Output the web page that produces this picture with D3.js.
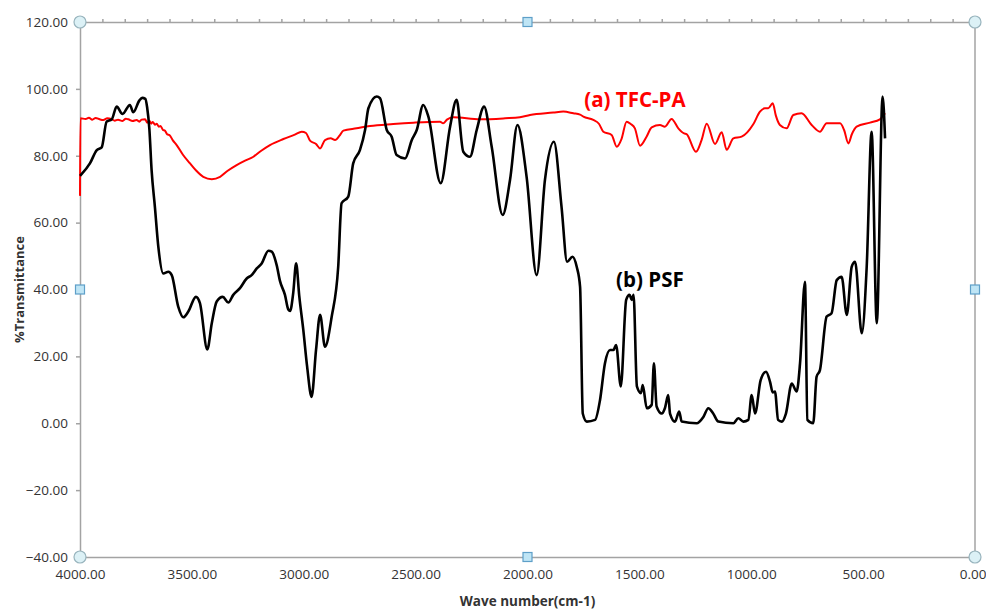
<!DOCTYPE html>
<html>
<head>
<meta charset="utf-8">
<script src="https://cdn.jsdelivr.net/npm/d3@7"></script>
<style>
  body { margin: 0; background: #fff; }
  svg { display: block; }
</style>
</head>
<body>
<svg></svg>
<script>
// PSF spectrum (black)
const psfWave = [4000,3993,3955,3925,3903,3881,3858,3836,3810,3777,3762,3735,3722,3708,3700,3690,3680,3665,3650,3628,3605,3590,3561,3538,3516,3482,3464,3431,3411,3389,3362,3337,3315,3285,3255,3233,3210,3188,3158,3143,3121,3106,3084,3069,3061,3047,3034,3020,3002,2985,2965,2945,2927,2905,2875,2846,2831,2801,2779,2749,2726,2711,2674,2659,2629,2607,2585,2547,2517,2495,2466,2443,2388,2346,2317,2287,2257,2227,2194,2160,2111,2078,2045,2004,1959,1922,1882,1848,1823,1799,1780,1765,1753,1735,1698,1676,1654,1631,1616,1604,1583,1559,1544,1534,1526,1511,1493,1485,1467,1445,1435,1423,1400,1386,1371,1363,1341,1322,1311,1244,1214,1192,1170,1147,1080,1058,1035,1013,998,983,958,934,916,904,894,880,864,845,819,797,782,760,749,723,708,693,663,641,618,596,573,551,536,506,484,462,439,413,402];
const psfT = [74,74.5,77.8,81.7,82.5,90.2,90.9,94.7,92.5,95.2,93.0,96.5,97.3,97.0,94.5,88,75.7,64.5,52.8,44.8,45.3,44.3,34.9,31.7,33.4,37.8,35.9,22.1,29.9,36.4,37.8,36.1,38.4,40.4,43.3,44.3,46.3,47.8,51.6,51.3,47.3,42.5,38.4,34,33.6,39,47.8,38,27.9,17,7.9,22,32.4,22.9,31.9,46.8,65.8,67.8,77.7,81.7,87.7,94.2,97.7,97.2,87.7,85.7,80.2,79.2,84.7,87.7,95.2,91.7,71.8,88.7,96.7,81.2,79.7,87.7,94.7,82.7,62.3,72.8,89.2,73.7,44.3,72.8,84.2,64.8,48.3,49.8,46.8,40.8,2.9,0.5,1.0,6.9,17.9,21.9,21.9,23.4,11,36.9,38.4,36.9,38.4,11,9,11.4,4.5,5.5,17.9,5,2.9,4.5,8.4,2.9,0.5,3.5,0.5,0,1.9,4.5,2.9,0.5,0,1.5,0.5,1,8.4,2.9,12.9,15.4,12.4,9.2,9.5,1,0.5,2.9,11.9,9.5,17.9,42.3,1,0,13.9,15.9,31.9,32.9,42.8,43.8,32.4,46.8,48.3,26.9,46.8,87.2,29.9,97.7,85.2];

// TFC-PA spectrum (red)
const tfcWave = [4000,3998,3975,3960,3945,3930,3912,3896,3878,3860,3845,3830,3810,3795,3784,3765,3747,3735,3725,3709,3700,3690,3682,3675,3665,3657,3648,3640,3630,3620,3610,3600,3585,3568,3540,3508,3480,3449,3411,3374,3340,3300,3260,3225,3190,3151,3091,3040,3009,2990,2972,2945,2927,2905,2880,2860,2840,2823,2764,2704,2600,2510,2391,2377,2360,2332,2212,2100,2034,1989,1885,1840,1795,1765,1750,1706,1680,1661,1624,1601,1580,1557,1539,1520,1497,1468,1445,1408,1386,1356,1326,1300,1289,1247,1222,1199,1162,1132,1110,1080,1043,991,961,939,924,904,890,872,842,812,775,730,693,663,603,585,566,550,529,469,425,402];
const tfcT = [68,91.2,91.0,91.4,90.8,91.3,90.9,90.7,91.2,91.0,90.5,90.8,90.4,91.1,90.9,90.4,90.7,90.2,90.8,90.9,89.9,90.5,89.6,90.1,89.3,89.6,88.7,88.9,87.8,87.5,86.4,86.2,84.6,83.2,80.3,77.7,75.5,73.7,73.0,73.7,75.5,77.2,78.6,79.7,81.5,83.2,85,86.3,87.2,86.8,84.5,83.5,82.2,84.7,85.2,84.7,86.0,87.5,88.2,88.9,89.5,89.9,90.2,89.7,90.8,91.5,90.9,91.2,91.5,92.2,92.9,93.2,92.7,92.3,91.7,90.7,89.5,87.2,86.2,82.7,85,90.2,89.5,88.2,83.0,85.7,88.5,89.2,88.7,91.0,88.2,86.7,86.5,81.2,84.7,89.6,83.5,87.0,81.8,85.2,85.7,89.4,93.2,94.2,94.2,95.7,92,89.2,88.2,92.2,92.7,89.2,87.2,89.7,89.7,87.7,83.7,86.5,88.7,89.9,90.9,92.7];

const yTicks = [-40,-20,0,20,40,60,80,100,120];
const xTicks = [4000,3500,3000,2500,2000,1500,1000,500,0];

const W = 986, H = 610;
const svg = d3.select('svg').attr('width', W).attr('height', H);

const x = d3.scaleLinear().domain([4000, 0]).range([80, 975]);
const y = d3.scaleLinear().domain([-40, 120]).range([557, 22]);

const axisColor = '#a3a3a3';
const font = '"Open Sans", sans-serif';

// right frame line
svg.append('line').attr('x1', x(0)).attr('x2', x(0)).attr('y1', y(120)).attr('y2', y(-40))
  .attr('stroke', axisColor).attr('stroke-width', 1.5);

// top axis (minor ticks every 100)
const topAxis = d3.axisTop(x).tickValues(d3.range(0, 4001, 100)).tickSize(3).tickFormat('');
const gTop = svg.append('g').attr('transform', `translate(0,${y(120)})`).call(topAxis);
gTop.selectAll('line, path').attr('stroke', axisColor).attr('stroke-width', 1.5);

// bottom axis
const bottomAxis = d3.axisBottom(x).tickValues(xTicks).tickSize(0).tickPadding(12).tickFormat(d3.format('.2f'));
const gBot = svg.append('g').attr('transform', `translate(0,${y(-40)})`).call(bottomAxis);
gBot.select('path').attr('stroke', axisColor).attr('stroke-width', 1.5);
gBot.selectAll('text').attr('font-family', font).attr('font-size', 13.5).attr('fill', '#333');
gBot.selectAll('.tick').filter(d => d === 0).select('text').attr('text-anchor', 'end').attr('x', 11);

// left axis
const leftAxis = d3.axisLeft(y).tickValues(yTicks).tickSize(4).tickPadding(8).tickFormat(d3.format('.2f'));
const gLeft = svg.append('g').attr('transform', `translate(${x(4000)},0)`).call(leftAxis);
gLeft.selectAll('line, path').attr('stroke', axisColor).attr('stroke-width', 1.5);
gLeft.selectAll('text').attr('font-family', font).attr('font-size', 13.5).attr('fill', '#333');

// series
const line = d3.line().x(d => x(d[0])).y(d => y(d[1])).curve(d3.curveMonotoneX);
const tfc = d3.zip(tfcWave, tfcT).sort((a, b) => b[0] - a[0]);
const psf = d3.zip(psfWave, psfT).sort((a, b) => b[0] - a[0]);

svg.append('path').datum(tfc).attr('d', line)
  .attr('fill', 'none').attr('stroke', '#ff0000').attr('stroke-width', 2).attr('stroke-linejoin', 'round');
svg.append('path').datum(psf).attr('d', line)
  .attr('fill', 'none').attr('stroke', '#000').attr('stroke-width', 2.6).attr('stroke-linejoin', 'round');

// series labels
svg.append('text').attr('x', x(1520)).attr('y', y(96.7)).attr('dy', '0.35em')
  .attr('text-anchor', 'middle').attr('font-family', font).attr('font-weight', 'bold')
  .attr('font-size', 20.5).attr('fill', '#ff0000').text('(a) TFC-PA');
svg.append('text').attr('x', x(1453)).attr('y', y(42.8)).attr('dy', '0.35em')
  .attr('text-anchor', 'middle').attr('font-family', font).attr('font-weight', 'bold')
  .attr('font-size', 20.5).attr('fill', '#000').text('(b) PSF');

// axis titles
svg.append('text').attr('x', (x(4000) + x(0)) / 2).attr('y', 601).attr('dy', '0.35em')
  .attr('text-anchor', 'middle').attr('font-family', font).attr('font-weight', 'bold')
  .attr('font-size', 13.5).attr('fill', '#333').text('Wave number(cm-1)');
svg.append('text').attr('transform', `translate(19,${y(40)}) rotate(-90)`).attr('dy', '0.35em')
  .attr('text-anchor', 'middle').attr('font-family', font).attr('font-weight', 'bold')
  .attr('font-size', 13).attr('fill', '#333').text('%Transmittance');

// selection handles of the plot area
const corners = [[4000,120],[0,120],[4000,-40],[0,-40]];
const mids = [[2000,120],[2000,-40],[4000,40],[0,40]];
svg.selectAll('circle.h').data(corners).join('circle').attr('class', 'h')
  .attr('cx', d => x(d[0])).attr('cy', d => y(d[1])).attr('r', 6)
  .attr('fill', '#dcf1f6').attr('stroke', '#98b4bd').attr('stroke-width', 1.2);
svg.selectAll('rect.h').data(mids).join('rect').attr('class', 'h')
  .attr('x', d => x(d[0]) - 4.5).attr('y', d => y(d[1]) - 4.5).attr('width', 9).attr('height', 9)
  .attr('fill', '#bfe5f5').attr('stroke', '#5e9fc8').attr('stroke-width', 1.2);
</script>
</body>
</html>
